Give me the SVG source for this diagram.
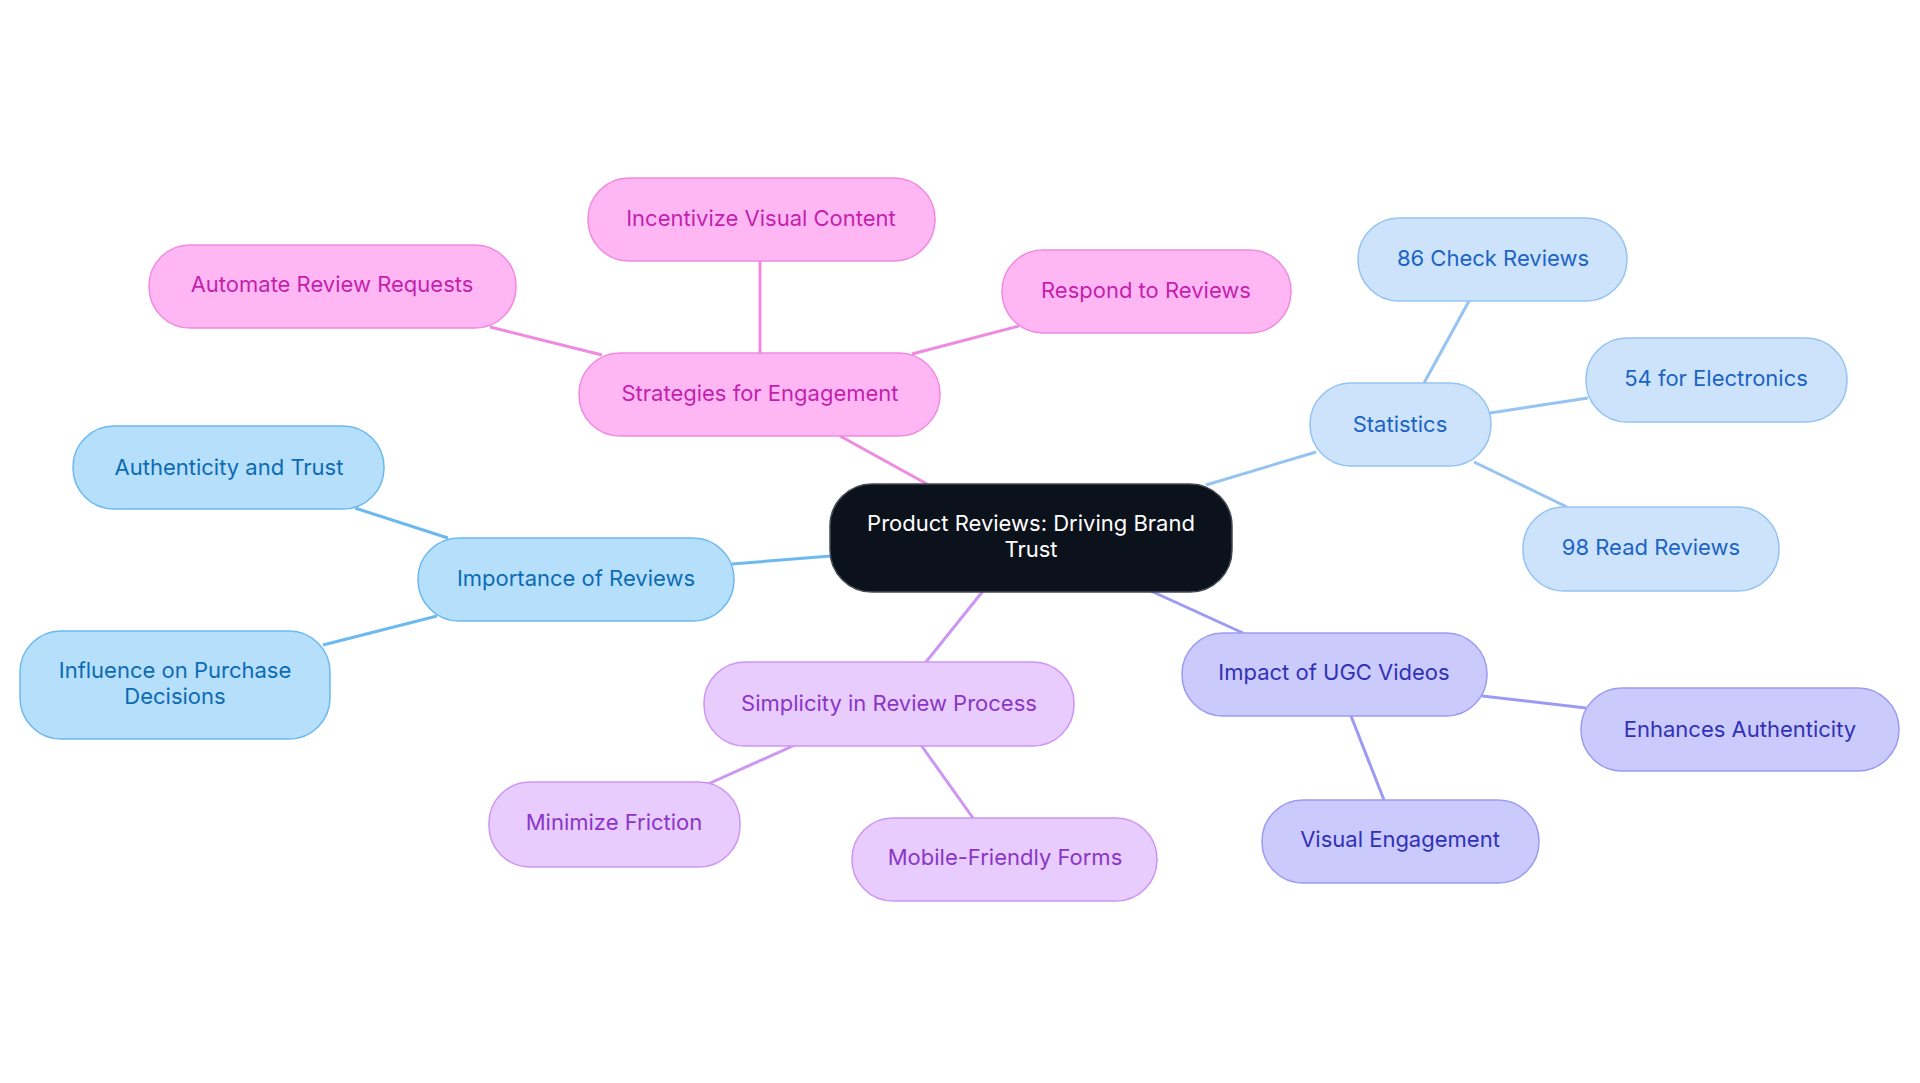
<svg xmlns="http://www.w3.org/2000/svg" width="1920" height="1083" viewBox="0 0 1920 1083">
<style>
text{font-family:Inter,"Open Sans","Liberation Sans",sans-serif;font-size:22px;text-anchor:middle;dominant-baseline:central}
rect{stroke-width:1.5}
.pk rect{fill:#ffb7f4;stroke:#f08ae0}.pk text{fill:#c41fad}
.sb rect{fill:#cde3fb;stroke:#95c3f2}.sb text{fill:#1b64c4}
.ib rect{fill:#b6dffc;stroke:#6cb9ef}.ib text{fill:#0c6bb3}
.pu rect{fill:#e7ccfd;stroke:#cd95f4}.pu text{fill:#8b35c8}
.in rect{fill:#cbcafd;stroke:#9c9af3}.in text{fill:#3131b5}
.e line{stroke-width:3}
</style>
<rect width="1920" height="1083" fill="#fff"/>
<g id="connectors" class="e">
<line x1="927" y1="484" x2="840" y2="436" stroke="#f08ae0"/>
<line x1="760" y1="353" x2="760" y2="261" stroke="#f08ae0"/>
<line x1="602" y1="355" x2="490" y2="327" stroke="#f08ae0"/>
<line x1="912" y1="354" x2="1019" y2="326" stroke="#f08ae0"/>
<line x1="1206" y1="485" x2="1316" y2="452" stroke="#95c3f2"/>
<line x1="1424" y1="383" x2="1469" y2="301" stroke="#95c3f2"/>
<line x1="1490" y1="413" x2="1588" y2="398" stroke="#95c3f2"/>
<line x1="1474" y1="462" x2="1567" y2="507" stroke="#95c3f2"/>
<line x1="831" y1="556" x2="732" y2="564" stroke="#6cb9ef"/>
<line x1="448" y1="538" x2="355" y2="508" stroke="#6cb9ef"/>
<line x1="437" y1="616" x2="323" y2="645" stroke="#6cb9ef"/>
<line x1="983" y1="591" x2="926" y2="662" stroke="#cd95f4"/>
<line x1="795" y1="745" x2="708" y2="784" stroke="#cd95f4"/>
<line x1="921" y1="745" x2="973" y2="818" stroke="#cd95f4"/>
<line x1="1151" y1="591" x2="1243" y2="633" stroke="#9c9af3"/>
<line x1="1482" y1="696" x2="1586" y2="708" stroke="#9c9af3"/>
<line x1="1351" y1="716" x2="1384" y2="800" stroke="#9c9af3"/>
</g>
<g id="central"><rect x="830" y="484" width="402" height="108" rx="42" fill="#0c121c" stroke="#444a52" stroke-width="1.5"/><text x="1031" y="523" fill="#fff">Product Reviews: Driving Brand</text><text x="1031" y="549" fill="#fff">Trust</text></g>
<g id="strategies" class="pk"><rect x="579" y="353" width="361" height="83" rx="41"/><text x="760" y="393">Strategies for Engagement</text></g>
<g id="incentivize" class="pk"><rect x="588" y="178" width="347" height="83" rx="41"/><text x="761" y="218">Incentivize Visual Content</text></g>
<g id="automate" class="pk"><rect x="149" y="245" width="367" height="83" rx="41"/><text x="332" y="284">Automate Review Requests</text></g>
<g id="respond" class="pk"><rect x="1002" y="250" width="289" height="83" rx="41"/><text x="1146" y="290">Respond to Reviews</text></g>
<g id="statistics" class="sb"><rect x="1310" y="383" width="181" height="83" rx="41"/><text x="1400" y="424">Statistics</text></g>
<g id="s86" class="sb"><rect x="1358" y="218" width="269" height="83" rx="41"/><text x="1493" y="258">86 Check Reviews</text></g>
<g id="s54" class="sb"><rect x="1586" y="338" width="261" height="84" rx="41"/><text x="1716" y="378">54 for Electronics</text></g>
<g id="s98" class="sb"><rect x="1523" y="507" width="256" height="84" rx="41"/><text x="1651" y="547">98 Read Reviews</text></g>
<g id="importance" class="ib"><rect x="418" y="538" width="316" height="83" rx="41"/><text x="576" y="578">Importance of Reviews</text></g>
<g id="authenticity" class="ib"><rect x="73" y="426" width="311" height="83" rx="41"/><text x="229" y="467">Authenticity and Trust</text></g>
<g id="influence" class="ib"><rect x="20" y="631" width="310" height="108" rx="41"/><text x="175" y="670">Influence on Purchase</text><text x="175" y="696">Decisions</text></g>
<g id="simplicity" class="pu"><rect x="704" y="662" width="370" height="84" rx="41"/><text x="889" y="703">Simplicity in Review Process</text></g>
<g id="minimize" class="pu"><rect x="489" y="782" width="251" height="85" rx="41"/><text x="614" y="822">Minimize Friction</text></g>
<g id="mobile" class="pu"><rect x="852" y="818" width="305" height="83" rx="41"/><text x="1005" y="857">Mobile-Friendly Forms</text></g>
<g id="ugc" class="in"><rect x="1182" y="633" width="305" height="83" rx="41"/><text x="1334" y="672">Impact of UGC Videos</text></g>
<g id="enhances" class="in"><rect x="1581" y="688" width="318" height="83" rx="41"/><text x="1740" y="729">Enhances Authenticity</text></g>
<g id="visual" class="in"><rect x="1262" y="800" width="277" height="83" rx="41"/><text x="1400" y="839">Visual Engagement</text></g>
</svg>
